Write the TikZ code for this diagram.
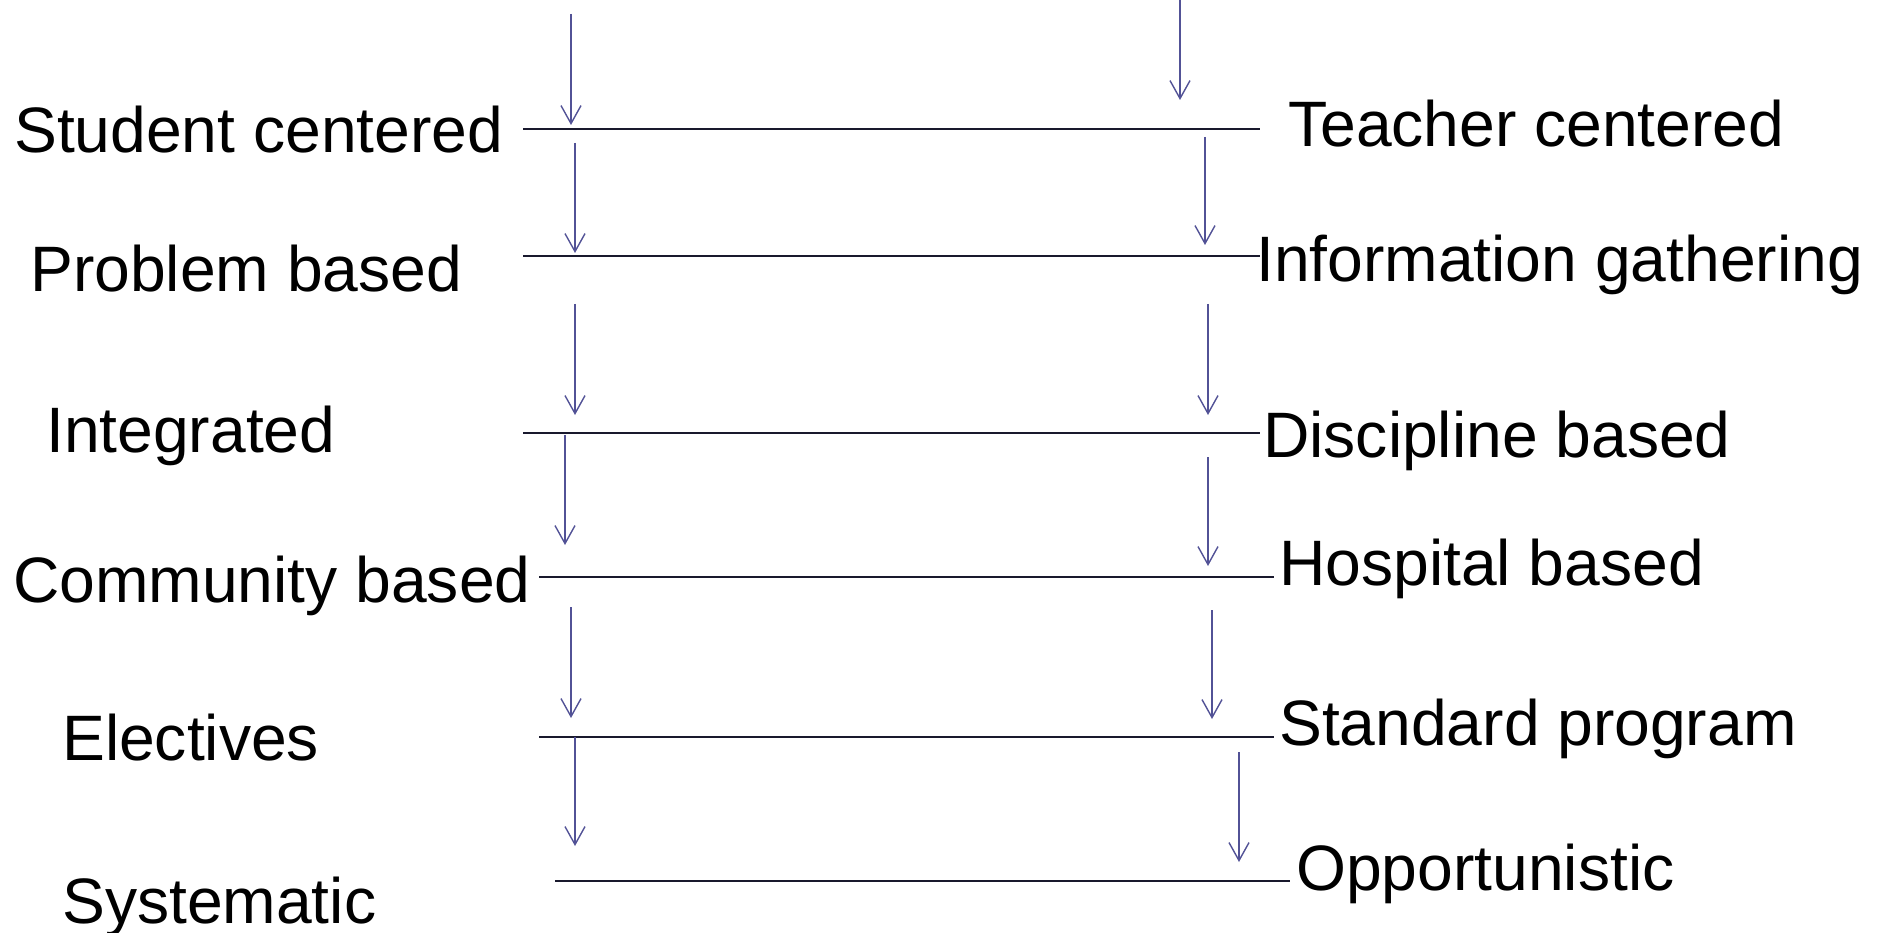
\documentclass[tikz,border=0pt]{standalone}
\usepackage{fontspec}
\setmainfont{Liberation Sans}
\usetikzlibrary{arrows.meta}
\definecolor{arrowblue}{RGB}{82,82,150}
\definecolor{barline}{RGB}{25,25,45}

\begin{document}
\begin{tikzpicture}[x=1pt,y=-1pt,
          label node/.style={anchor=base west,inner sep=0pt,font=\fontsize{64.2}{70}\selectfont},
          bar/.style={color=barline,line width=2.2pt},
          down/.style={color=arrowblue,line width=1.4pt,-{Straight Barb[length=18pt,width=20pt]}}]

  \useasboundingbox (0,0) rectangle (1885,933);

  \node[label node] (l1) at (14,153) {Student centered};
  \node[label node] (r1) at (1288,147) {Teacher centered};
  \node[label node] (l2) at (30,292) {Problem based};
  \node[label node] (r2) at (1256,282) {Information gathering};
  \node[label node] (l3) at (46,452) {Integrated};
  \node[label node] (r3) at (1263,457) {Discipline based};
  \node[label node] (l4) at (13,602) {Community based};
  \node[label node] (r4) at (1279,585) {Hospital based};
  \node[label node] (l5) at (62,760) {Electives};
  \node[label node] (r5) at (1279,745) {Standard program};
  \node[label node] (l6) at (62,923) {Systematic};
  \node[label node] (r6) at (1296,890) {Opportunistic};

  % bar ends
  \coordinate (a1) at (523,129); \coordinate (b1) at (1260,129);
  \coordinate (a2) at (523,256); \coordinate (b2) at (1260,256);
  \coordinate (a3) at (523,433); \coordinate (b3) at (1260,433);
  \coordinate (a4) at (539,577); \coordinate (b4) at (1274,577);
  \coordinate (a5) at (539,737); \coordinate (b5) at (1274,737);
  \coordinate (a6) at (555,881); \coordinate (b6) at (1290,881);

  % arrow ends
  \coordinate (s1) at (571,14);  \coordinate (t1) at (571,125);
  \coordinate (u1) at (1180,0);  \coordinate (v1) at (1180,100);
  \coordinate (s2) at (575,143); \coordinate (t2) at (575,253);
  \coordinate (u2) at (1205,137); \coordinate (v2) at (1205,245);
  \coordinate (s3) at (575,304); \coordinate (t3) at (575,415);
  \coordinate (u3) at (1208,304); \coordinate (v3) at (1208,415);
  \coordinate (s4) at (565,435); \coordinate (t4) at (565,545);
  \coordinate (u4) at (1208,457); \coordinate (v4) at (1208,566);
  \coordinate (s5) at (571,607); \coordinate (t5) at (571,718);
  \coordinate (u5) at (1212,610); \coordinate (v5) at (1212,719);
  \coordinate (s6) at (575,737); \coordinate (t6) at (575,846);
  \coordinate (u6) at (1239,752); \coordinate (v6) at (1239,862);

  \path[bar]
  (a1) edge (b1)
  (a2) edge (b2)
  (a3) edge (b3)
  (a4) edge (b4)
  (a5) edge (b5)
  (a6) edge (b6);
  \path[down]
  (s1) edge (t1)
  (u1) edge (v1)
  (s2) edge (t2)
  (u2) edge (v2)
  (s3) edge (t3)
  (u3) edge (v3)
  (s4) edge (t4)
  (u4) edge (v4)
  (s5) edge (t5)
  (u5) edge (v5)
  (s6) edge (t6)
  (u6) edge (v6);
\end{tikzpicture}
\end{document}
